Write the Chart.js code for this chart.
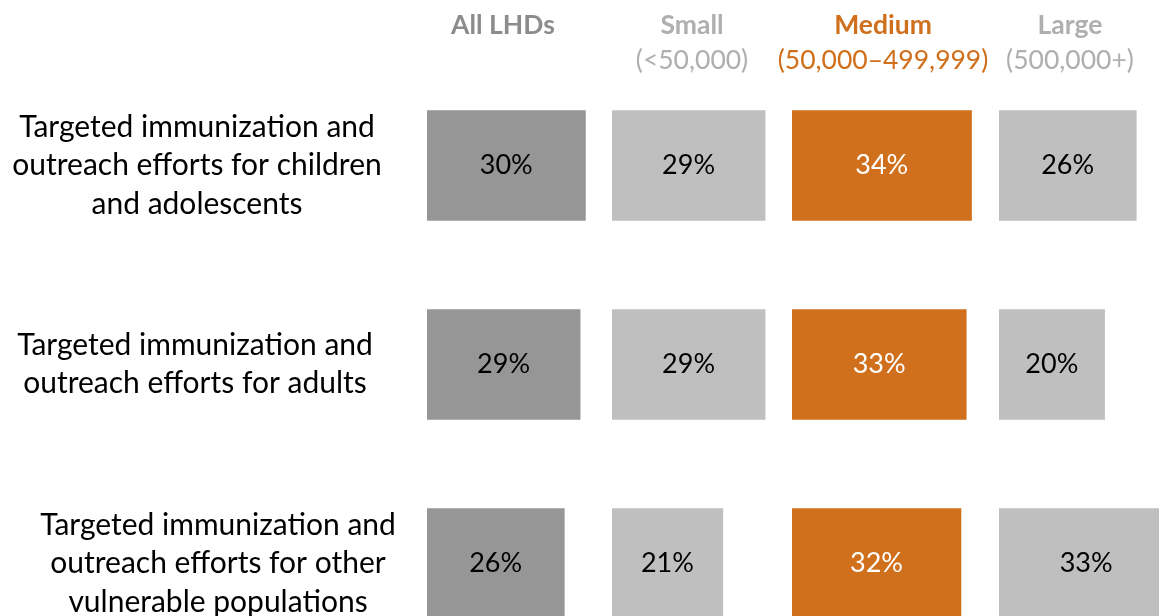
<!DOCTYPE html>
<html>
<head>
<meta charset="utf-8">
<script src="https://cdn.jsdelivr.net/npm/chart.js@4.4.0/dist/chart.umd.min.js"></script>
<style>
  html, body { margin: 0; padding: 0; background: #fff; overflow: hidden; }
  #wrap { width: 1159px; height: 616px; overflow: hidden; }
</style>
</head>
<body>
<div id="wrap"><canvas id="chart" width="1159" height="663"></canvas></div>
<script>
// data
const rowLabels = [
    ['Targeted immunization and', 'outreach efforts for children', 'and adolescents'],
    ['Targeted immunization and', 'outreach efforts for adults'],
    ['Targeted immunization and', 'outreach efforts for other', 'vulnerable populations']
];
const groupNames = ['All LHDs', 'Small', 'Medium', 'Large'];
const groupRanges = ['', '(<50,000)', '(50,000–499,999)', '(500,000+)'];
const allLHDs = [30, 29, 26];
const small = [29, 29, 21];
const medium = [34, 33, 32];
const large = [26, 20, 33];

// layout / style
const FONT = 'Lato, "Open Sans", sans-serif';
const barColors = ['#969696', '#BFBFBF', '#D0701C', '#BFBFBF'];
const headColors = ['#8C8C8C', '#AFAFAF', '#D0701C', '#AFAFAF'];
const valueColors = ['#000000', '#000000', '#FFFFFF', '#000000'];
const colWidths = [185, 180, 207, 160];   // pixel width of each column panel
const PX_PER_PCT = 5.28;
const headX = [503, 692, 883, 1070];
const labelX = [197, 195, 218];
const LINE_H = 38.5;

const series = [allLHDs, small, medium, large];

const scales = {
    y: { type: 'category', display: false }
};
colWidths.forEach((w, i) => {
    scales['x' + i] = {
        type: 'linear',
        position: 'bottom',
        stack: 'cols',
        stackWeight: w,
        min: 0,
        max: w / PX_PER_PCT,
        display: false
    };
});

const textPlugin = {
    id: 'texts',
    afterDatasetsDraw(chart) {
        const ctx = chart.ctx;
        ctx.save();
        ctx.textAlign = 'center';
        ctx.textBaseline = 'middle';

        // value labels
        ctx.font = '27px ' + FONT;
        chart.data.datasets.forEach((ds, i) => {
            ctx.fillStyle = valueColors[i];
            chart.getDatasetMeta(i).data.forEach((bar, j) => {
                ctx.fillText(ds.data[j] + '%', (bar.x + bar.base) / 2, bar.y);
            });
        });

        // row labels
        const yScale = chart.scales.y;
        ctx.fillStyle = '#000000';
        ctx.font = '30px ' + FONT;
        rowLabels.forEach((lines, j) => {
            const yc = yScale.getPixelForValue(j);
            lines.forEach((line, k) => {
                ctx.fillText(line, labelX[j], yc + (k - (lines.length - 1) / 2) * LINE_H);
            });
        });

        // column headers
        groupNames.forEach((name, i) => {
            ctx.fillStyle = headColors[i];
            ctx.font = 'bold 26.5px ' + FONT;
            ctx.fillText(name, headX[i], 25);
            if (groupRanges[i]) {
                ctx.font = '26.5px ' + FONT;
                ctx.fillText(groupRanges[i], headX[i], 60);
            }
        });
        ctx.restore();
    }
};

new Chart(document.getElementById('chart').getContext('2d'), {
    type: 'bar',
    data: {
        labels: rowLabels.map(l => l.join(' ')),
        datasets: series.map((vals, i) => ({
            label: groupNames[i],
            data: vals,
            xAxisID: 'x' + i,
            backgroundColor: barColors[i],
            borderWidth: 0,
            barThickness: 110,
            grouped: false
        }))
    },
    options: {
        indexAxis: 'y',
        responsive: false,
        animation: false,
        layout: { padding: { left: 427, top: 66, right: 0, bottom: 0 } },
        plugins: {
            legend: { display: false },
            tooltip: { enabled: false }
        },
        scales: scales
    },
    plugins: [textPlugin]
});
</script>
</body>
</html>
